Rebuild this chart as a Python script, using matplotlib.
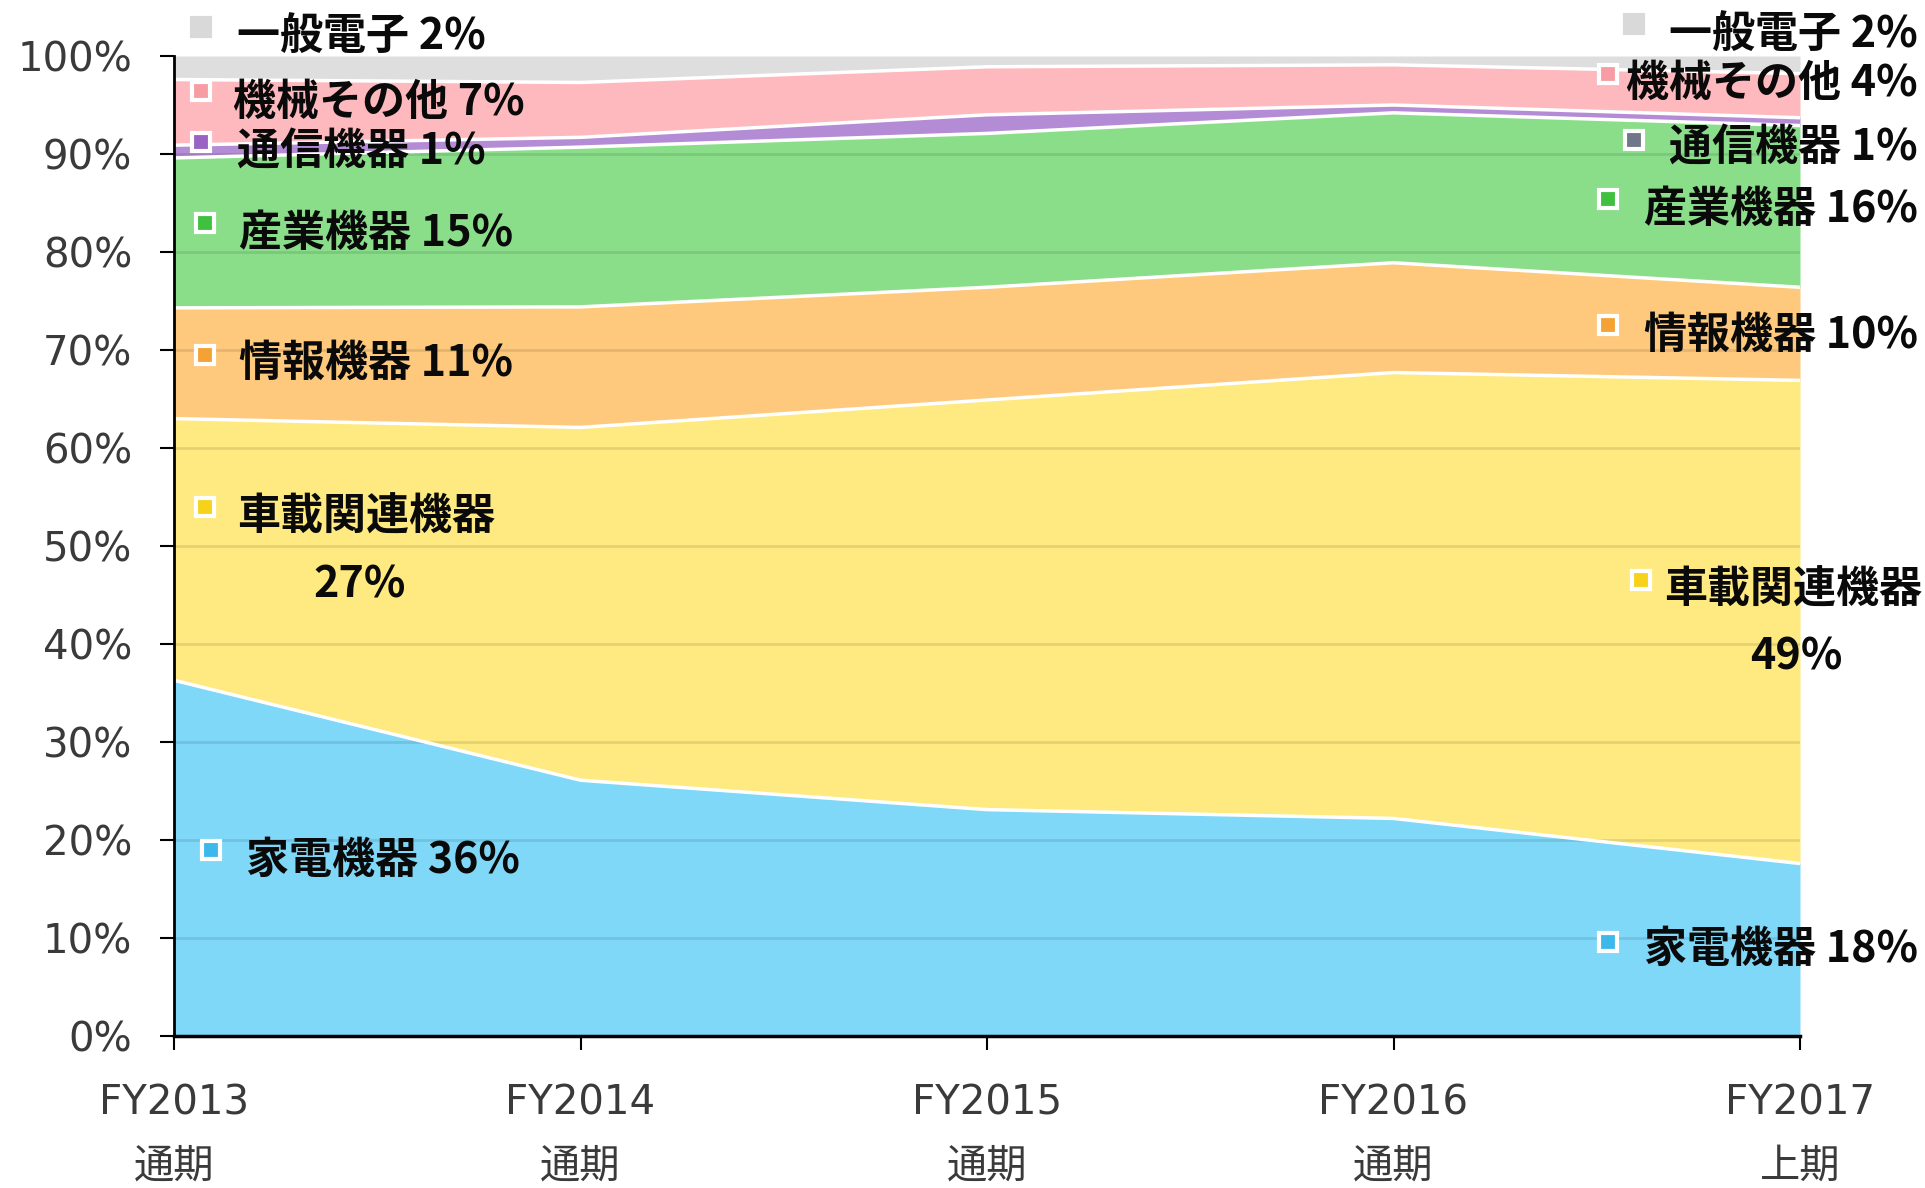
import numpy as np
import matplotlib.pyplot as plt
from matplotlib.lines import Line2D

W, H = 1925, 1188

periods = ["FY2013\n通期", "FY2014\n通期", "FY2015\n通期", "FY2016\n通期", "FY2017\n上期"]

# shares in %, bottom to top
kaden = [36.3, 26.1, 23.1, 22.2, 17.6]      # 家電機器
shasai = [26.7, 36.0, 41.8, 45.5, 49.3]     # 車載関連機器
joho = [11.3, 12.3, 11.5, 11.2, 9.5]        # 情報機器
sangyo = [15.3, 16.3, 15.7, 15.3, 16.5]     # 産業機器
tsushin = [1.3, 1.0, 1.9, 0.8, 0.8]         # 通信機器
kikai = [6.7, 5.6, 4.9, 4.1, 4.5]           # 機械その他
ippan = [2.4, 2.7, 1.1, 0.9, 1.8]           # 一般電子

fills = ["#80d8f8", "#feea80", "#fec97d", "#8ade8a", "#b48cd6", "#feb9be", "#dedede"]

left_labels = ["家電機器 36%", "車載関連機器", "情報機器 11%", "産業機器 15%",
               "通信機器 1%", "機械その他 7%", "一般電子 2%"]
right_labels = ["家電機器 18%", "車載関連機器", "情報機器 10%", "産業機器 16%",
                "通信機器 1%", "機械その他 4%", "一般電子 2%"]
left_pct, right_pct = "27%", "49%"

left_marks = ["#3cb9ea", "#f6d21a", "#f5a235", "#3fc13f", "#9a62c2", "#f79ca3", "#d9d9d9"]
right_marks = ["#3cb9ea", "#f6d21a", "#f5a235", "#3fc13f", "#6f7788", "#f79ca3", "#d9d9d9"]

data = np.array([kaden, shasai, joho, sangyo, tsushin, kikai, ippan]) / 100
cum = np.vstack([np.zeros(len(periods)), np.cumsum(data, axis=0)])
x = np.arange(len(periods))

fig = plt.figure(figsize=(W / 100, H / 100), dpi=100)
ax = fig.add_axes([174 / W, 1 - 1036 / H, 1626 / W, 980 / H])

for i in range(len(data)):
    ax.fill_between(x, cum[i], cum[i + 1], color=fills[i], lw=0, zorder=1)
for i in range(1, len(data)):
    ax.plot(x, cum[i], color="white", lw=2.5, zorder=3)

ax.set_xlim(0, len(periods) - 1)
ax.set_ylim(0, 1)
ax.set_yticks(np.arange(0, 1.01, 0.1))
ax.set_yticklabels([f"{int(round(v * 100))}%" for v in np.arange(0, 1.01, 0.1)])
ax.set_xticks(x)
ax.set_xticklabels(periods, linespacing=1.75)
for t in ax.get_xticklabels() + ax.get_yticklabels():
    t.set_family(["DejaVu Sans", "Noto Sans CJK JP"])
    t.set_fontsize(29)
    t.set_color("#3a3a3a")
ax.tick_params(axis="y", length=10, width=1.5, pad=20)
ax.tick_params(axis="x", length=10, width=1.5, pad=24)

for v in np.arange(0.1, 1.0, 0.1):
    ax.axhline(v, color="black", alpha=0.1, lw=2, zorder=2)

for s in ["top", "right"]:
    ax.spines[s].set_visible(False)
ax.spines["left"].set_linewidth(2)
ax.spines["bottom"].set_linewidth(2.5)
ax.spines["left"].set_zorder(5)
ax.spines["bottom"].set_zorder(5)

lab_font = dict(family=["Noto Sans CJK JP", "DejaVu Sans"], fontweight="bold",
                fontsize=31, color="#0a0a0a", va="center")


def fx(px):
    return px / W


def fy(py):
    return 1 - py / H


def marker(px, py, c, edge=True):
    fig.add_artist(Line2D([fx(px)], [fy(py)], marker="s", markersize=13,
                          markerfacecolor=c, markeredgecolor="white" if edge else c,
                          markeredgewidth=3, transform=fig.transFigure, zorder=6))


# left labels: marker (x, y), text (x, y)
left_pos = [((211, 850), (246, 860)), ((205, 507), (237, 517)), ((205, 355), (239, 363)),
            ((205, 223), (239, 233)), ((201, 142), (237, 151)), ((201, 91), (233, 102)),
            ((201, 27), (237, 36))]
for i, ((mx, my), (tx, ty)) in enumerate(left_pos):
    marker(mx, my, left_marks[i], edge=(i != 6))
    fig.text(fx(tx), fy(ty), left_labels[i], ha="left", zorder=7, **lab_font)
fig.text(fx(360), fy(584), left_pct, ha="center", zorder=7, **lab_font)

right_pos = [((1608, 942), (1918, 949)), ((1641, 580), (1922, 590)), ((1608, 325), (1918, 335)),
             ((1608, 199), (1918, 209)), ((1634, 140), (1918, 147)), ((1608, 74), (1918, 83)),
             ((1634, 24), (1918, 34))]
for i, ((mx, my), (tx, ty)) in enumerate(right_pos):
    marker(mx, my, right_marks[i], edge=(i != 6))
    fig.text(fx(tx), fy(ty), right_labels[i], ha="right", zorder=7, **lab_font)
fig.text(fx(1796), fy(657), right_pct, ha="center", zorder=7, **lab_font)

fig.savefig("out.png", dpi=100)
